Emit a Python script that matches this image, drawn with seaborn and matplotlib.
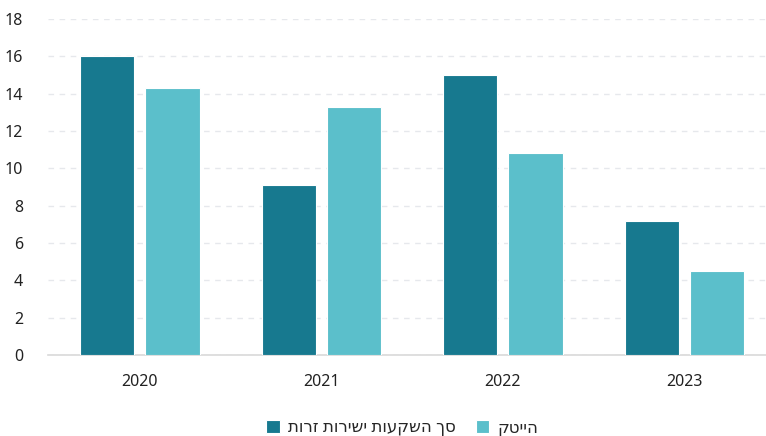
import matplotlib
matplotlib.use("Agg")
import matplotlib.pyplot as plt
import seaborn as sns
import pandas as pd

years = ["2020", "2021", "2022", "2023"]
total_fdi = [16.0, 9.1, 15.0, 7.2]
hitech = [14.3, 13.3, 10.8, 4.5]
series_names = ["סך השקעות ישירות זרות", "הייטק"]
y_ticks = [0, 2, 4, 6, 8, 10, 12, 14, 16, 18]

colors = ["#17798f", "#5bbfcb"]

sns.set_theme(style="white")
plt.rcParams["font.family"] = ["Noto Sans", "DejaVu Sans"]

df = pd.DataFrame({
    "year": years * 2,
    "value": total_fdi + hitech,
    "series": [series_names[0]] * 4 + [series_names[1]] * 4,
})

fig = plt.figure(figsize=(7.66, 4.36), dpi=100)
ax = fig.add_axes([0.063, 0.186, 0.937, 0.770])

sns.barplot(data=df, x="year", y="value", hue="series", hue_order=series_names,
            palette=colors, saturation=1, width=0.72, gap=0.17, ax=ax,
            errorbar=None, edgecolor="white", linewidth=0.8, zorder=3)

ax.set_ylim(0, 18)
ax.set_xlim(-0.505, 3.45)
ax.set_yticks(y_ticks)
ax.set_yticklabels([str(t) for t in y_ticks])
ax.yaxis.grid(True, linestyle=(0, (4, 4)), color="#e6e8ec", linewidth=1, zorder=0)
ax.set_axisbelow(True)
ax.set_xlabel("")
ax.set_ylabel("")
for s in ["top", "right", "left"]:
    ax.spines[s].set_visible(False)
ax.spines["bottom"].set_color("#d9d9d9")
ax.spines["bottom"].set_linewidth(1.2)
ax.tick_params(axis="y", length=0, pad=18, labelsize=11.5, labelcolor="#222222")
ax.tick_params(axis="x", length=0, pad=14, labelsize=11.5, labelcolor="#222222")

handles, labels = ax.get_legend_handles_labels()
ax.legend_.remove()
# matplotlib has no bidi support: reverse Hebrew strings for visual order
fig.legend(handles, [lab[::-1] for lab in labels],
           loc="center", bbox_to_anchor=(0.525, 0.018), ncol=2, frameon=False,
           markerfirst=True, handlelength=0.8, handleheight=0.8,
           handletextpad=0.5, columnspacing=1.2, fontsize=12)

fig.savefig("out.png", dpi=100)
